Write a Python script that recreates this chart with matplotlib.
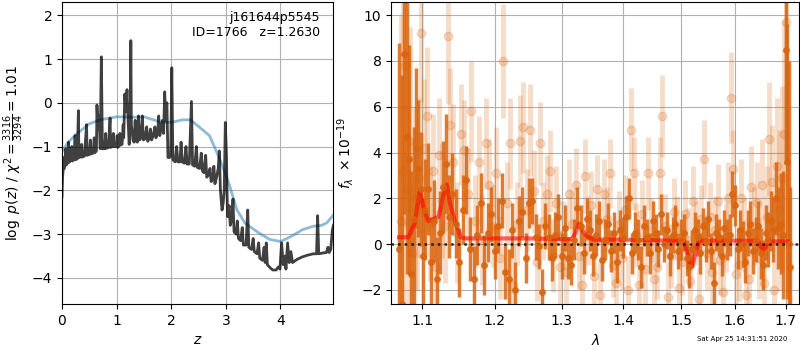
import numpy as np
import matplotlib
matplotlib.use('Agg')
import matplotlib.pyplot as plt

##-----------------------data--------------------------------##
# log p(z) curve (spiky)
z_pz = [0.00, 0.01, 0.02, 0.03, 0.04, 0.06, 0.07, 0.08, 0.10, 0.12, 0.13, 0.16, 0.18, 0.19, 0.22,
        0.24, 0.25, 0.28, 0.30, 0.31, 0.34, 0.36, 0.37, 0.41, 0.45, 0.46, 0.50, 0.52, 0.53, 0.57,
        0.59, 0.60, 0.63, 0.64, 0.66, 0.68, 0.70, 0.72, 0.74, 0.78, 0.80, 0.81, 0.85, 0.88, 0.89,
        0.92, 0.94, 0.95, 0.99, 1.01, 1.02, 1.05, 1.06, 1.07, 1.10, 1.12, 1.13, 1.15, 1.17, 1.19,
        1.21, 1.23, 1.25, 1.26, 1.27, 1.30, 1.32, 1.34, 1.35, 1.38, 1.40, 1.42, 1.45, 1.47, 1.49,
        1.52, 1.55, 1.57, 1.60, 1.62, 1.64, 1.67, 1.70, 1.72, 1.75, 1.77, 1.79, 1.82, 1.84, 1.86,
        1.88, 1.90, 1.92, 1.94, 1.97, 1.99, 2.01, 2.03, 2.07, 2.10, 2.12, 2.16, 2.18, 2.20, 2.24,
        2.27, 2.29, 2.33, 2.37, 2.39, 2.43, 2.46, 2.48, 2.52, 2.55, 2.57, 2.60, 2.63, 2.65, 2.68,
        2.71, 2.73, 2.76, 2.78, 2.80, 2.83, 2.86, 2.88, 2.90, 2.93, 2.95, 2.97, 2.99, 3.01, 3.03,
        3.06, 3.08, 3.11, 3.13, 3.15, 3.19, 3.21, 3.23, 3.27, 3.30, 3.32, 3.37, 3.40, 3.42, 3.47,
        3.50, 3.52, 3.57, 3.60, 3.62, 3.67, 3.70, 3.72, 3.74, 3.76, 3.82, 3.86, 3.92, 3.96, 3.99,
        4.02, 4.05, 4.08, 4.10, 4.13, 4.16, 4.19, 4.22, 4.30, 4.40, 4.50, 4.60, 4.66, 4.68, 4.70,
        4.78, 4.84, 4.87, 4.89, 4.92, 4.95, 4.97]
logp = [-2.15, -1.70, -1.55, -1.25, -1.50, -1.40, -1.05, -1.42, -1.38, -0.90, -1.36, -1.32, -1.00, -1.33, -1.30,
        -0.75, -1.30, -1.28, -0.18, -1.25, -1.24, -0.95, -1.24, -1.22, -0.50, -1.20, -1.18, -0.85, -1.17, -1.15,
        -0.80, -1.14, -1.10, -0.05, -0.60, -0.30, -1.05, 1.05, -1.05, -1.05, -0.70, -1.04, -1.02, -0.35, -1.02,
        -1.00, -0.70, -1.00, -1.00, -0.75, -1.02, -0.98, -0.70, -0.96, -0.95, -0.50, -0.80, 0.20, -0.20, 0.30,
        -0.40, -0.95, -0.30, 1.42, -0.50, -0.85, -0.90, -0.40, -0.85, -0.90, -0.30, -0.85, -0.80, -0.30, -0.85,
        -0.82, -0.55, -0.88, -0.80, -0.60, -0.85, -0.75, -0.55, -0.80, -0.70, -0.30, -0.75, -0.55, -0.40, -0.70,
        0.25, -0.40, 0.00, -1.25, -1.25, -1.20, 0.80, -1.30, -1.35, -1.00, -1.35, -1.35, -0.90, -1.35, -1.38,
        -1.00, -1.40, -1.40, 0.03, -1.42, -1.45, -1.00, -1.48, -1.50, -1.15, -1.55, -1.60, -1.20, -1.70, -1.65,
        -1.50, -1.80, -1.75, -1.45, -1.85, -1.70, -1.50, -1.10, -2.00, -2.45, -2.30, -2.00, -0.45, -1.20, -2.60,
        -2.35, -2.80, -2.65, -2.20, -2.95, -3.00, -2.70, -3.10, -3.15, -2.85, -3.25, -3.25, -2.45, -3.30, -3.35,
        -3.10, -3.40, -3.45, -3.20, -3.55, -3.60, -3.30, -3.65, -3.20, -3.70, -3.78, -3.82, -3.82, -3.75, -3.80,
        -3.20, -3.70, -3.50, -3.80, -3.20, -3.65, -3.40, -3.65, -3.58, -3.52, -3.48, -3.45, -3.45, -2.58, -3.45,
        -3.43, -3.42, -3.30, -3.42, -3.35, -2.90, -2.80]

# smooth curve
z_chi = [0.0, 0.1, 0.25, 0.5, 0.7, 1.0, 1.3, 1.5, 1.8, 2.0, 2.2, 2.35, 2.5, 2.7, 2.9, 3.07,
         3.2, 3.35, 3.6, 3.8, 4.0, 4.2, 4.4, 4.6, 4.75, 4.85, 4.97]
chi_curve = [-1.12, -0.92, -0.73, -0.48, -0.39, -0.32, -0.33, -0.32, -0.44, -0.45, -0.39, -0.39, -0.54, -0.75,
             -1.32, -1.90, -2.44, -2.75, -2.97, -3.12, -3.17, -3.05, -2.90, -2.82, -2.80, -2.74, -2.56]

# spectrum, dark points
wl_dark = [1.070, 1.074, 1.077, 1.080, 1.083, 1.086, 1.089, 1.092, 1.095, 1.098,
           1.101, 1.104, 1.108, 1.112, 1.116, 1.120, 1.124, 1.128, 1.132, 1.136,
           1.140, 1.145, 1.150, 1.155, 1.160, 1.165, 1.170, 1.175, 1.180, 1.185,
           1.190, 1.195, 1.200, 1.205, 1.210, 1.215, 1.220, 1.225, 1.230, 1.235,
           1.240, 1.245, 1.250, 1.255, 1.260, 1.265, 1.270, 1.275, 1.280, 1.285,
           1.290, 1.295, 1.300, 1.305, 1.310, 1.315, 1.320, 1.325, 1.330, 1.335,
           1.340, 1.345, 1.350, 1.355, 1.360, 1.365, 1.370, 1.375, 1.380, 1.385,
           1.390, 1.395, 1.400, 1.405, 1.410, 1.415, 1.420, 1.425, 1.430, 1.435,
           1.440, 1.445, 1.450, 1.455, 1.460, 1.465, 1.470, 1.475, 1.480, 1.485,
           1.490, 1.495, 1.500, 1.505, 1.510, 1.515, 1.520, 1.525, 1.530, 1.535,
           1.540, 1.545, 1.550, 1.555, 1.560, 1.565, 1.570, 1.575, 1.580, 1.585,
           1.590, 1.595, 1.600, 1.605, 1.610, 1.615, 1.620, 1.625, 1.630, 1.635,
           1.640, 1.645, 1.650, 1.655, 1.660, 1.665, 1.670, 1.675, 1.680, 1.685,
           1.690, 1.695, 1.700, 1.703, 1.706, 1.710]
fl_dark = [-0.2, -2.6, 8.3, 4.7, 3.7, -1.3, 1.1, 4.2, 3.3, 2.4,
           -0.5, 1.5, 2.4, -0.8, 1.0, -1.5, 0.5, 2.5, 3.5, 1.2,
           2.2, 0.9, -0.8, 1.5, 2.8, -0.2, -1.5, 0.4, 1.8, -0.9,
           0.5, 1.3, -0.3, 0.8, 1.9, -1.2, -1.5, 0.6, -2.0, 1.0,
           1.4, -0.6, 1.8, 1.9, 0.3, -0.1, -2.1, 0.8, 0.3, -0.6,
           0.4, 1.2, -0.5, 0.7, -0.6, -0.9, 0.2, 1.6, 0.8, -0.4,
           1.1, 0.6, -0.5, 0.4, 1.0, -0.7, 0.2, 0.9, -0.3, 0.5,
           -0.8, 0.6, 0.3, 1.2, 2.0, -0.4, 0.5, 0.2, -1.0, 0.8,
           0.3, -0.4, 1.0, 0.5, -0.2, 1.3, 0.0, 0.6, -0.5, 0.4,
           0.9, -0.3, 0.2, 0.5, -0.6, -1.0, -0.2, 0.6, 0.3, -0.4,
           0.8, 0.1, 1.1, -0.3, -1.7, 0.5, 0.3, -0.5, 0.7, 0.2,
           0.4, 2.2, 1.7, -0.2, 0.6, 0.0, -0.8, 0.5, 0.9, -0.3,
           0.2, 0.8, -0.4, -0.9, 0.5, 0.2, 1.0, 0.6, 2.0, 0.7,
           0.9, 0.4, 8.5, 3.6, 0.0, -1.0]
er_dark = [9, 10, 7, 6, 5, 4.5, 4, 3.5, 3, 2.5,
           2.5, 2.2, 2, 2, 1.8, 1.8, 1.8, 2, 2.2, 1.8,
           1.8, 1.5, 1.5, 1.5, 1.5, 1.4, 1.4, 1.3, 1.3, 1.3,
           1.3, 1.2, 1.2, 1.2, 1.2, 1.2, 1.3, 1.2, 1.2, 1.1,
           1.1, 1.1, 1.1, 1.0, 1.0, 1.0, 1.0, 1.0, 1.0, 1.0,
           1.0, 1.0, 1.0, 1.0, 0.9, 0.9, 0.9, 0.9, 0.9, 0.9,
           0.9, 0.9, 0.9, 0.9, 0.9, 0.9, 0.9, 0.9, 0.9, 0.9,
           0.9, 0.9, 0.9, 0.9, 0.9, 0.9, 0.9, 0.9, 0.9, 0.9,
           0.8, 0.9, 0.9, 0.8, 0.8, 0.9, 0.8, 0.8, 0.9, 0.8,
           0.8, 0.8, 0.9, 0.8, 0.8, 0.9, 0.8, 0.8, 0.8, 0.9,
           0.8, 0.9, 0.8, 0.8, 0.9, 0.8, 0.8, 0.9, 0.8, 0.9,
           0.9, 1.0, 0.9, 0.9, 0.9, 1.0, 0.9, 1.0, 1.0, 1.0,
           1.0, 1.1, 1.1, 1.1, 1.2, 1.2, 1.3, 1.4, 1.6, 1.8,
           2.2, 2.8, 5.0, 6.0, 8.0, 3.5]

# spectrum, faint points
wl_light = [1.072, 1.075, 1.078, 1.081, 1.084, 1.087, 1.090, 1.093, 1.096, 1.099,
            1.103, 1.106, 1.110, 1.114, 1.118, 1.122, 1.126, 1.130, 1.134, 1.138,
            1.142, 1.147, 1.152, 1.157, 1.162, 1.167, 1.172, 1.177, 1.182, 1.187,
            1.192, 1.197, 1.202, 1.207, 1.212, 1.217, 1.222, 1.227, 1.232, 1.237,
            1.242, 1.247, 1.252, 1.257, 1.262, 1.267, 1.272, 1.277, 1.282, 1.287,
            1.292, 1.297, 1.302, 1.307, 1.312, 1.317, 1.322, 1.327, 1.332, 1.337,
            1.342, 1.347, 1.352, 1.357, 1.362, 1.367, 1.372, 1.377, 1.382, 1.387,
            1.392, 1.397, 1.402, 1.407, 1.412, 1.417, 1.422, 1.427, 1.432, 1.437,
            1.442, 1.447, 1.452, 1.457, 1.462, 1.467, 1.472, 1.477, 1.482, 1.487,
            1.492, 1.497, 1.502, 1.507, 1.512, 1.517, 1.522, 1.527, 1.532, 1.537,
            1.542, 1.547, 1.552, 1.557, 1.562, 1.567, 1.572, 1.577, 1.582, 1.587,
            1.592, 1.597, 1.602, 1.607, 1.612, 1.617, 1.622, 1.627, 1.632, 1.637,
            1.642, 1.647, 1.652, 1.657, 1.662, 1.667, 1.672, 1.677, 1.682, 1.687,
            1.692, 1.697, 1.700]
fl_light = [1.0, 3.2, 7.8, 2.4, 4.5, -0.4, 2.0, 1.5, 2.9, 9.2,
            4.2, 5.6, 0.9, 3.2, -1.0, 3.9, 1.9, 0.8, 9.1, 5.2,
            3.6, 0.5, 4.8, 4.1, 2.2, 5.8, 1.0, 3.6, 0.2, 4.4,
            2.6, 0.8, 3.1, -0.6, 8.0, 1.8, 4.4, -1.8, 0.9, 4.5,
            5.1, 1.5, 4.98, 2.3, -0.8, 4.4, 1.0, 2.2, 3.2, -0.5,
            1.8, -1.0, 0.4, -1.2, 2.2, 0.9, 2.6, -0.5, -1.8, 2.97,
            0.6, 1.7, -1.4, 2.4, -2.2, 2.2, 1.1, 3.1, -0.9, -1.7,
            0.9, -0.6, 1.5, -2.0, 5.0, 3.1, 0.4, -1.8, 1.3, -1.1,
            3.1, 0.6, -1.5, -1.0, 3.1, 5.6, 0.8, -2.3, -0.5, 1.4,
            0.7, -1.9, -0.8, 1.3, 0.2, -1.6, 1.9, 0.5, -2.4, 1.1,
            3.7, -0.4, 1.2, -1.2, 0.6, 1.9, -0.7, -2.1, 0.3, 2.0,
            6.4, 3.3, -1.3, -0.9, 2.0, 0.4, -2.2, -1.5, 2.5, 0.8,
            1.8, -0.6, 2.6, -1.7, 1.2, 4.6, 2.7, -2.0, 3.4, 1.5,
            2.9, 4.8, 9.7]
er_light = [9, 8, 7, 6, 5, 5, 4, 3.5, 3.5, 3,
            3, 3, 2.5, 2.5, 2.5, 2.5, 2.5, 2.5, 3, 2.5,
            2.5, 2.2, 2.2, 2.2, 2, 2.2, 2, 2, 2, 2,
            2, 1.8, 2, 1.8, 2.5, 1.8, 2, 1.8, 1.8, 2,
            2, 1.8, 2, 1.8, 1.7, 1.8, 1.7, 1.7, 1.8, 1.6,
            1.6, 1.6, 1.5, 1.5, 1.5, 1.5, 1.6, 1.5, 1.5, 1.6,
            1.5, 1.5, 1.4, 1.5, 1.4, 1.5, 1.4, 1.5, 1.4, 1.5,
            1.4, 1.4, 1.5, 1.5, 1.8, 1.6, 1.4, 1.4, 1.5, 1.5,
            1.6, 1.4, 1.5, 1.4, 1.6, 1.8, 1.4, 1.5, 1.4, 1.5,
            1.4, 1.5, 1.4, 1.5, 1.4, 1.5, 1.5, 1.4, 1.4, 1.5,
            1.7, 1.6, 1.5, 1.5, 1.5, 1.6, 1.5, 1.5, 1.5, 1.6,
            2.0, 1.7, 1.6, 1.6, 1.7, 1.6, 1.7, 1.6, 1.8, 1.7,
            1.8, 1.8, 2.0, 2.0, 2.2, 2.5, 2.5, 2.5, 3.0, 3.5,
            4, 5, 6]

# best-fit model
wl_model = [1.070, 1.082, 1.090, 1.097, 1.102, 1.108, 1.115, 1.122, 1.128, 1.133, 1.138, 1.145,
            1.152, 1.160, 1.200, 1.250, 1.300, 1.316, 1.322, 1.327, 1.333, 1.340, 1.350, 1.400,
            1.420, 1.450, 1.490, 1.505, 1.510, 1.516, 1.520, 1.525, 1.532, 1.560, 1.600, 1.645,
            1.650, 1.655, 1.662, 1.668, 1.700, 1.705]
fl_model = [0.3, 0.3, 0.9, 2.3, 1.6, 1.0, 1.1, 1.2, 2.1, 2.6, 1.7, 0.9,
            0.3, 0.25, 0.25, 0.25, 0.22, 0.22, 0.5, 0.9, 0.6, 0.35, 0.2, 0.2,
            0.18, 0.17, 0.15, 0.15, -0.3, -0.9, -1.0, -0.5, 0.15, 0.15, 0.15, 0.15,
            -0.1, -0.25, -0.05, 0.12, 0.12, 0.12]

wl_ticks = [1.1, 1.2, 1.3, 1.4, 1.5, 1.6, 1.7]
c_spec = '#d9650f'

##-------------------------draw-----------------------------##
fig = plt.figure(figsize=(8, 3.5), dpi=100)

ax = fig.add_axes([0.0775, 0.131, 0.339, 0.863])
ax.plot(z_chi, chi_curve, color='tab:blue', alpha=0.5, lw=2)
ax.plot(z_pz, logp, color='k', alpha=0.75, lw=2)
ax.set_xlim(0, 4.965)
ax.set_ylim(-4.6, 2.3)
ax.set_xlabel('$z$')
ax.set_ylabel(r'$\log\ p(z)$ / $\chi^2=\frac{3316}{3294}=1.01$')
ax.text(0.95, 0.97, 'j161644p5545\nID=1766   z=1.2630', ha='right', va='top',
        transform=ax.transAxes, fontsize=9)
ax.grid()

ax2 = fig.add_axes([0.489, 0.131, 0.51, 0.863])
ax2.errorbar(wl_light, fl_light, yerr=er_light, fmt='o', color=c_spec, alpha=0.22,
             ms=6, elinewidth=3.5, capsize=0)
ax2.errorbar(wl_dark, fl_dark, yerr=er_dark, fmt='o', color=c_spec, alpha=0.85,
             ms=4, elinewidth=2.5, capsize=0)
ax2.plot(wl_model, fl_model, color='red', alpha=0.6, lw=3)
ax2.axhline(0, color='k', ls=':', lw=1.8, alpha=0.8)
ax2.set_xscale('log')
ax2.set_xticks(wl_ticks)
ax2.set_xticklabels([str(t) for t in wl_ticks])
ax2.xaxis.set_minor_locator(matplotlib.ticker.NullLocator())
ax2.set_xlim(1.06, 1.728)
ax2.set_ylim(-2.62, 10.57)
ax2.set_xlabel(r'$\lambda$')
ax2.set_ylabel(r'$f_\lambda\ \times 10^{-19}$')
ax2.grid()

fig.text(0.984, 0.03, 'Sat Apr 25 14:31:51 2020', ha='right', va='center', fontsize=5)

plt.savefig('out.png', dpi=100)
print('done')
